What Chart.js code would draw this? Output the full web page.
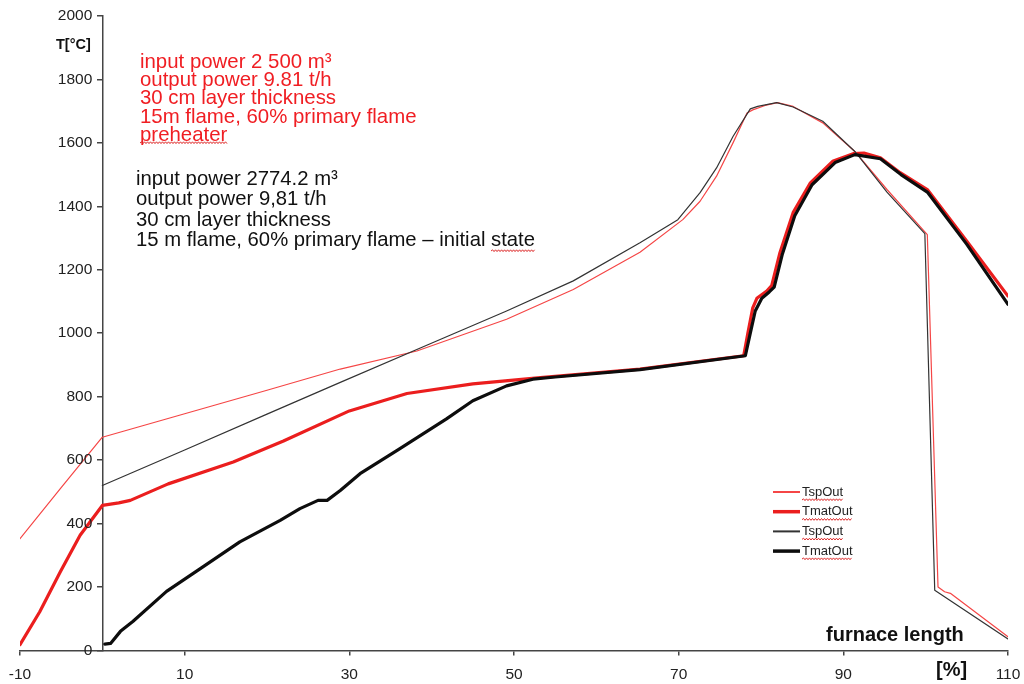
<!DOCTYPE html>
<html>
<head>
<meta charset="utf-8">
<script src="https://cdn.jsdelivr.net/npm/chart.js@4/dist/chart.umd.min.js"></script>
<style>
  html, body { margin: 0; padding: 0; background: #fff; }
  #wrap { width: 1024px; height: 684px; }
</style>
</head>
<body>
<div id="wrap"><canvas id="myChart" width="1024" height="684"></canvas></div>
<script>
// axis ticks
const xTicks = [-10, 10, 30, 50, 70, 90, 110];
const yTicks = [0, 200, 400, 600, 800, 1000, 1200, 1400, 1600, 1800, 2000];

// preheater case (red) - TspOut
const spRedX = [-10, -5.1, 0, 10, 20, 28.9, 38.2, 49.1, 57.2, 65.3, 70.5, 72.6, 74.6, 76.6, 78.3, 79, 80.5, 82, 83.9, 87.5, 91.4, 95.3, 100.2, 101.5, 102.3, 103, 110];
const spRedY = [352, 510, 672, 746, 820, 887, 944, 1044, 1138, 1255, 1358, 1416, 1495, 1600, 1694, 1704, 1718, 1727, 1715, 1663, 1573, 1453, 1311, 200, 185, 180, 43];

// preheater case (red) - TmatOut
const matRedX = [-10, -7.6, -5.1, -2.7, 0, 2, 3.4, 8, 15.9, 22, 30, 37, 45, 53.2, 65.3, 77.9, 78.4, 79, 79.5, 80.7, 81.3, 82.3, 83.9, 86, 88.7, 91.2, 92.5, 94.5, 96.9, 100.2, 105, 110];
const matRedY = [18, 122, 248, 363, 457, 465, 473, 525, 594, 660, 755, 810, 840, 860, 887, 929, 1000, 1080, 1110, 1133, 1150, 1254, 1380, 1474, 1542, 1566, 1568, 1553, 1506, 1453, 1290, 1117];

// initial state (black) - TspOut
const spBlkX = [0, 10, 20, 28.9, 39.4, 49.1, 57.2, 65.3, 69.9, 72.6, 74.6, 76.6, 78.7, 79.6, 81.9, 83.9, 87.5, 91.4, 95.3, 99.9, 101.1, 110];
const spBlkY = [520, 632, 745, 845, 962, 1070, 1165, 1285, 1358, 1443, 1521, 1620, 1707, 1715, 1727, 1713, 1668, 1573, 1445, 1314, 190, 36];

// initial state (black) - TmatOut
const matBlkX = [0.3, 1, 2.2, 3.7, 7.8, 11.9, 16.7, 21.6, 24, 26.2, 27.3, 28.9, 31.3, 36, 41.8, 45, 49.1, 52.3, 55, 65.3, 78.1, 78.7, 79.3, 80.1, 81, 81.6, 82.6, 84.1, 86.2, 89, 91.4, 94.5, 97, 100.2, 105, 110];
const matBlkY = [20, 22, 60, 91, 186, 258, 342, 410, 447, 473, 473, 504, 557, 634, 730, 787, 834, 855, 862, 885, 929, 1000, 1070, 1110, 1130, 1145, 1250, 1370, 1468, 1538, 1563, 1550, 1500, 1445, 1280, 1091];

const legendLabels = ["TspOut", "TmatOut", "TspOut", "TmatOut"];

const redTextLines = ["input power 2 500 m³", "output power 9.81 t/h", "30 cm layer thickness", "15m flame, 60% primary flame", "preheater"];
const blackTextLines = ["input power 2774.2 m³", "output power 9,81 t/h", "30 cm layer thickness", "15 m flame, 60% primary flame – initial state"];

const FONT = "'Liberation Sans', Arial, sans-serif";

function pts(xs, ys) {
    return xs.map((x, i) => ({ x: x, y: ys[i] }));
}

// red spell-check squiggle
function squiggle(ctx, x0, x1, y) {
    ctx.save();
    ctx.strokeStyle = "rgb(220,40,40)";
    ctx.lineWidth = 1;
    ctx.beginPath();
    let up = true;
    ctx.moveTo(x0, y);
    for (let x = x0 + 1.5; x <= x1; x += 1.5) {
        ctx.lineTo(x, up ? y - 1.2 : y + 0.6);
        up = !up;
    }
    ctx.stroke();
    ctx.restore();
}

const textPlugin = {
    id: "texts",
    afterDraw(chart) {
        const ctx = chart.ctx;
        ctx.save();

        // y tick labels, left of the axis that sits at x = 0
        const ys = chart.scales.y;
        const axisX = chart.scales.x.getPixelForValue(0);
        ctx.fillStyle = "#222";
        ctx.font = "15.5px " + FONT;
        ctx.textAlign = "right";
        ctx.textBaseline = "middle";
        yTicks.forEach(v => ctx.fillText(String(v), axisX - 10, ys.getPixelForValue(v)));

        ctx.textAlign = "left";

        // axis titles
        ctx.fillStyle = "#111";
        ctx.font = "bold 14.5px " + FONT;
        ctx.fillText("T[°C]", 56, 45);
        ctx.font = "bold 20px " + FONT;
        ctx.fillText("furnace length", 826, 635);
        ctx.fillText("[%]", 936, 670);

        // red annotation
        ctx.fillStyle = "rgb(240,30,35)";
        ctx.font = "20.4px " + FONT;
        redTextLines.forEach((t, i) => ctx.fillText(t, 140, 62 + i * 18.3));
        const wp = ctx.measureText(redTextLines[4]).width;
        squiggle(ctx, 140, 140 + wp, 143);

        // black annotation
        ctx.fillStyle = "#111";
        ctx.font = "20.3px " + FONT;
        blackTextLines.forEach((t, i) => ctx.fillText(t, 136, 179 + i * 20.5));
        const last = blackTextLines[3];
        const wAll = ctx.measureText(last).width;
        const wState = ctx.measureText("state").width;
        squiggle(ctx, 136 + wAll - wState, 136 + wAll, 251);

        // legend
        ctx.font = "13px " + FONT;
        chart.data.datasets.forEach((ds, i) => {
            const y = 492 + i * 19.7;
            ctx.strokeStyle = ds.borderColor;
            ctx.lineWidth = ds.borderWidth < 2 ? 2 : 3.5;
            ctx.beginPath();
            ctx.moveTo(773, y);
            ctx.lineTo(800, y);
            ctx.stroke();
            ctx.fillStyle = "#222";
            ctx.fillText(legendLabels[i], 802, y);
            const w = ctx.measureText(legendLabels[i]).width;
            squiggle(ctx, 802, 802 + w, y + 8);
        });
        ctx.restore();
    }
};

const ctx = document.getElementById("myChart").getContext("2d");

const myChart = new Chart(ctx, {
    type: "line",
    data: {
        datasets: [
            {
                label: "TspOut",
                data: pts(spRedX, spRedY),
                borderColor: "rgb(245,70,70)",
                borderWidth: 1.2,
                order: 2,
            },
            {
                label: "TmatOut",
                data: pts(matRedX, matRedY),
                borderColor: "rgb(235,30,30)",
                borderWidth: 3.2,
                order: 3,
            },
            {
                label: "TspOut",
                data: pts(spBlkX, spBlkY),
                borderColor: "#333",
                borderWidth: 1.2,
                order: 1,
            },
            {
                label: "TmatOut",
                data: pts(matBlkX, matBlkY),
                borderColor: "#0d0d0d",
                borderWidth: 3.2,
                order: 0,
            },
        ],
    },
    options: {
        responsive: false,
        animation: false,
        layout: { padding: { left: 20, right: 16, top: 16, bottom: -10 } },
        elements: {
            point: { radius: 0 },
            line: { tension: 0, fill: false, borderCapStyle: "round", borderJoinStyle: "round" },
        },
        plugins: {
            legend: { display: false },
            tooltip: { enabled: false },
        },
        scales: {
            x: {
                type: "linear",
                min: -10,
                max: 110,
                afterBuildTicks: (axis) => { axis.ticks = xTicks.map(v => ({ value: v })); },
                afterFit: (axis) => { axis.paddingLeft = 0; axis.paddingRight = 0; },
                grid: { drawOnChartArea: false, drawTicks: true, tickLength: 5, color: "#444", lineWidth: 1.5 },
                border: { color: "#444", width: 1.5 },
                ticks: { color: "#222", padding: 10, font: { size: 15.5, family: FONT } },
            },
            y: {
                type: "linear",
                min: 0,
                max: 2000,
                position: { x: 0 },
                afterBuildTicks: (axis) => { axis.ticks = yTicks.map(v => ({ value: v })); },
                grid: { drawOnChartArea: false, drawTicks: true, tickLength: 5, color: "#444", lineWidth: 1.5 },
                border: { color: "#444", width: 1.5 },
                ticks: { display: false },
            },
        },
    },
    plugins: [textPlugin],
});
</script>
</body>
</html>
